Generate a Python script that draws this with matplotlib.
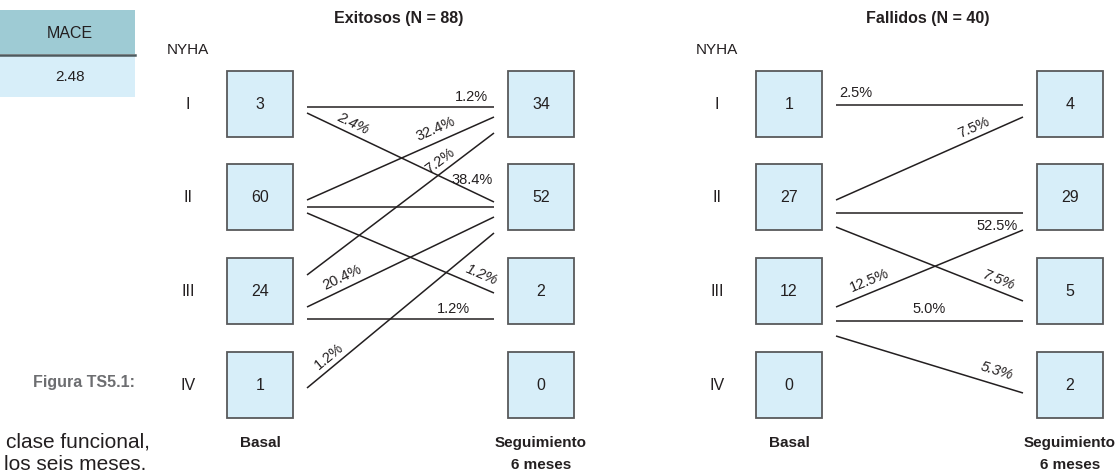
import numpy as np
import matplotlib
matplotlib.use('Agg')
import matplotlib.pyplot as plt
from matplotlib.patches import Rectangle

plt.rcParams['font.family'] = ['Liberation Sans', 'DejaVu Sans']

# data
levels = ["I", "II", "III", "IV"]

exitosos_basal = [3, 60, 24, 1]
exitosos_seg = [34, 52, 2, 0]
exitosos_from = [0, 0, 1, 2, 1, 1, 2, 3, 2]
exitosos_to = [0, 1, 0, 0, 1, 2, 1, 1, 2]
exitosos_pct = ["1.2%", "2.4%", "32.4%", "7.2%", "38.4%", "1.2%", "20.4%", "1.2%", "1.2%"]

fallidos_basal = [1, 27, 12, 0]
fallidos_seg = [4, 29, 5, 2]
fallidos_from = [0, 1, 1, 1, 2, 2, 2]
fallidos_to = [0, 0, 1, 2, 1, 2, 3]
fallidos_pct = ["2.5%", "7.5%", "52.5%", "7.5%", "12.5%", "5.0%", "5.3%"]

mace_header = "MACE"
mace_value = "2.48"

# layout (pixels)
W, H = 1119, 474
BOX = 66
ROW_TOP = [71, 164, 258, 352]
DARK = "#231f20"
BOX_FILL = "#d7eef9"
BOX_EDGE = "#58595b"

# line endpoint offsets (start, end) relative to row centre, label x and vertical lift
exitosos_layout = [
    (3, 3, 471, 10), (9, 5, 353, 11), (3, 13, 436, 14), (-16, 29, 440, 13),
    (10, 10, 472, 27), (16, 2, 482, 13), (16, 20, 342, 13), (3, 36, 329, 13),
    (28, 28, 453, 10),
]
fallidos_layout = [
    (1, 1, 856, 12), (3, 13, 974, 11), (16, 16, 997, -13), (30, 10, 998, 11),
    (16, 33, 869, 13), (30, 30, 929, 12), (45, 8, 997, 14),
]

fig = plt.figure(figsize=(W / 100, H / 100), dpi=100)
ax = fig.add_axes([0, 0, 1, 1])
ax.set_xlim(0, W)
ax.set_ylim(H, 0)
ax.axis('off')


def row_center(i):
    return ROW_TOP[i] + BOX / 2


def draw_panel(x0, title, basal, seg, src, dst, pct, layout):
    # x0 = left edge of left boxes
    left_x = x0
    right_x = x0 + 281
    line_x0 = x0 + 80
    line_x1 = x0 + 267
    ax.text(x0 + 172, 18, title, ha='center', va='center', fontsize=11.5,
            fontweight='bold', color=DARK)
    ax.text(x0 - 60, 50, "NYHA", ha='left', va='center', fontsize=11, color=DARK)
    for i, lab in enumerate(levels):
        cy = row_center(i)
        ax.text(x0 - 39, cy, lab, ha='center', va='center', fontsize=11.5, color=DARK)
        for bx, v in ((left_x, basal[i]), (right_x, seg[i])):
            ax.add_patch(Rectangle((bx, ROW_TOP[i]), BOX, BOX, facecolor=BOX_FILL,
                                   edgecolor=BOX_EDGE, linewidth=1.3))
            ax.text(bx + BOX / 2, cy, str(v), ha='center', va='center',
                    fontsize=11.5, color=DARK)
    for a, b, p, (o0, o1, lx, lift) in zip(src, dst, pct, layout):
        y0 = row_center(a) + o0
        y1 = row_center(b) + o1
        ax.plot([line_x0, line_x1], [y0, y1], color=DARK, lw=1.1,
                solid_capstyle='butt')
        t = (lx - line_x0) / (line_x1 - line_x0)
        ly = y0 + t * (y1 - y0) - lift
        ang = -np.degrees(np.arctan2(y1 - y0, line_x1 - line_x0))
        ax.text(lx, ly, p, ha='center', va='center', fontsize=10.5, color=DARK,
                rotation=ang, rotation_mode='anchor',
                style='italic' if ang < -1 else 'normal')
    ax.text(left_x + BOX / 2, 443, "Basal", ha='center', va='center',
            fontsize=11, fontweight='bold', color=DARK)
    ax.text(right_x + BOX / 2, 443, "Seguimiento", ha='center', va='center',
            fontsize=11, fontweight='bold', color=DARK)
    ax.text(right_x + BOX / 2, 465, "6 meses", ha='center', va='center',
            fontsize=11, fontweight='bold', color=DARK)


draw_panel(227, "Exitosos (N = 88)", exitosos_basal, exitosos_seg,
           exitosos_from, exitosos_to, exitosos_pct, exitosos_layout)
draw_panel(756, "Fallidos (N = 40)", fallidos_basal, fallidos_seg,
           fallidos_from, fallidos_to, fallidos_pct, fallidos_layout)

# partial table on the left edge
ax.add_patch(Rectangle((-5, 10), 140, 44, facecolor="#9ecbd4", edgecolor='none'))
ax.add_patch(Rectangle((-5, 55), 140, 42, facecolor="#d7eef9", edgecolor='none'))
ax.plot([-5, 135], [54.5, 54.5], color="#4d5a5e", lw=1.8)
ax.text(70, 33, mace_header, ha='center', va='center', fontsize=11.5, color=DARK)
ax.text(70, 77, mace_value, ha='center', va='center', fontsize=11, color=DARK)

# cut caption text
ax.text(135, 383, "Figura TS5.1:", ha='right', va='center', fontsize=11.5,
        fontweight='bold', color="#6d6e71")
ax.text(150, 442, "clase funcional,", ha='right', va='center', fontsize=15,
        color=DARK)
ax.text(146, 465, "los seis meses.", ha='right', va='center', fontsize=15,
        color=DARK)

fig.savefig("out.png", dpi=100)
